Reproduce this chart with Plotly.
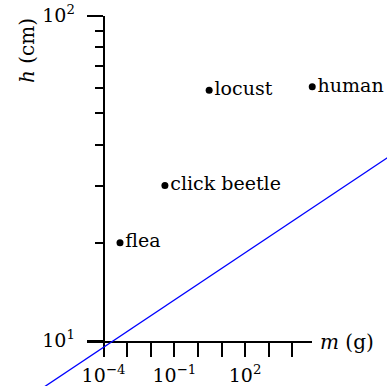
import plotly.graph_objects as go

# Animals: body mass (g) and jump height (cm)
animals = ["flea", "click beetle", "locust", "human"]
mass_g = [5e-4, 0.04, 3, 7e4]
height_cm = [20, 30, 59, 60.4]

# Reference scaling line, given by its two end points
line_mass = [1e-9, 1e9]
line_height = [5.45, 40.7]

x_tickvals = [1e-4, 1e-3, 1e-2, 1e-1, 1, 10, 1e2, 1e3, 1e4]
x_ticktext = ["10<sup>−4</sup>", "", "", "10<sup>−1</sup>", "", "", "10<sup>2</sup>", "", ""]
y_tickvals = [10, 100]
y_ticktext = ["10<sup>1</sup>", "10<sup>2</sup>"]
y_minor = [20, 30, 40, 50, 60, 70, 80, 90]

W, H = 387, 386
FONT = "DejaVu Serif"

# pixel geometry of the visible axes
x0_px, px_per_dec_x = 103.5, 23.6       # x pixel of 1e-4, pixels per decade
y0_px, px_per_dec_y = 340.5, 324.8      # y pixel of 10, pixels per decade
ax_left_px, ax_right_px = 87.3, 312.3
ax_top_px = 15.7


def xlog(px):
    return -4 + (px - x0_px) / px_per_dec_x


def ylog(py):
    return 1 + (y0_px - py) / px_per_dec_y


fig = go.Figure()

# scaling line on a full-figure overlay so it runs past the axes
fig.add_trace(go.Scatter(
    x=line_mass, y=line_height, mode="lines",
    line=dict(color="#0000ff", width=1.3),
    xaxis="x2", yaxis="y2", hoverinfo="skip", showlegend=False,
))

fig.add_trace(go.Scatter(
    x=mass_g, y=height_cm, mode="markers+text",
    text=animals, textposition="middle right",
    textfont=dict(family=FONT, size=19, color="black"),
    marker=dict(color="black", size=7),
    cliponaxis=False, showlegend=False,
))

axis_common = dict(
    type="log", showgrid=False, zeroline=False, showline=True,
    linecolor="black", linewidth=1.6, ticks="outside", automargin=False,
    tickcolor="black", tickwidth=1.6, tickfont=dict(family=FONT, size=19, color="black"),
)

fig.update_layout(
    width=W, height=H,
    margin=dict(l=0, r=0, t=0, b=0, pad=0, autoexpand=False),
    paper_bgcolor="white", plot_bgcolor="rgba(0,0,0,0)",
    xaxis=dict(
        **axis_common,
        domain=[ax_left_px / W, ax_right_px / W],
        range=[xlog(ax_left_px), xlog(ax_right_px)],
        anchor="y",
        tickmode="array", tickvals=x_tickvals, ticktext=x_ticktext,
        ticklen=15, ticklabelstandoff=2,
    ),
    yaxis=dict(
        **axis_common,
        domain=[(H - y0_px) / H, (H - ax_top_px) / H],
        range=[1, 2],
        anchor="free", position=x0_px / W,
        tickmode="array", tickvals=y_tickvals, ticktext=y_ticktext,
        ticklen=16, ticklabelstandoff=8,
        minor=dict(tickmode="array", tickvals=y_minor, ticklen=8,
                   ticks="outside", tickcolor="black", tickwidth=1.6),
    ),
    xaxis2=dict(
        type="log", domain=[0, 1], range=[xlog(0), xlog(W)],
        anchor="y2", visible=False, automargin=False,
    ),
    yaxis2=dict(
        type="log", domain=[0, 1], range=[ylog(H), ylog(0)],
        anchor="x2", visible=False, automargin=False,
    ),
    annotations=[
        dict(text="<i>h</i> (cm)", x=27 / W, y=(H - 51) / H,
             xref="paper", yref="paper", textangle=-90, showarrow=False,
             xanchor="center", yanchor="middle",
             font=dict(family=FONT, size=20, color="black")),
        dict(text="<i>m</i> (g)", x=347 / W, y=(H - 342) / H,
             xref="paper", yref="paper", showarrow=False,
             xanchor="center", yanchor="middle",
             font=dict(family=FONT, size=20, color="black")),
    ],
)

fig.write_html("out.html")
